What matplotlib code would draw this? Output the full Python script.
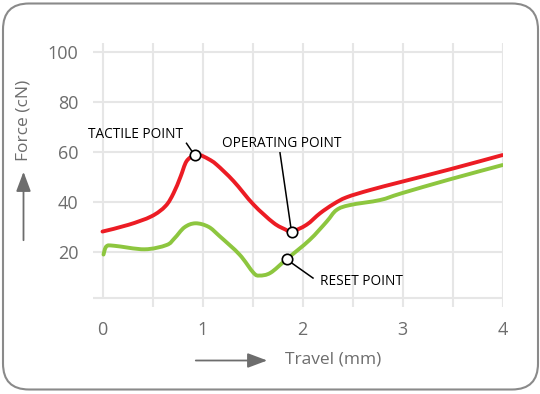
import matplotlib
matplotlib.use("Agg")
import matplotlib.pyplot as plt
from matplotlib.patches import FancyBboxPatch, PathPatch
from matplotlib.path import Path
import numpy as np

# Force-travel curves
red_x = [0.0, 0.26, 0.49, 0.63, 0.71, 0.78, 0.84, 0.92, 0.97, 1.06, 1.14, 1.31,
         1.51, 1.71, 1.83, 1.89, 2.04, 2.175, 2.31, 2.44, 2.675, 2.99, 3.475, 4.0]
red_y = [28.3, 31.0, 34.4, 38.5, 43.6, 50.2, 56.4, 58.9, 59.0, 57.3, 55.1, 48.5,
         39.1, 31.8, 29.1, 28.2, 31.0, 35.6, 39.3, 42.0, 44.9, 48.2, 53.2, 58.9]

green_x = [0.01, 0.04, 0.12, 0.42, 0.64, 0.72, 0.82, 0.93, 1.06, 1.17, 1.37,
           1.51, 1.57, 1.68, 1.84, 2.07, 2.24, 2.34, 2.475, 2.775, 2.99, 3.475, 4.0]
green_y = [19.1, 22.4, 22.6, 21.2, 22.9, 25.6, 30.0, 31.6, 30.2, 26.5, 19.1,
           11.8, 10.7, 11.8, 17.2, 24.9, 32.2, 36.9, 38.9, 40.9, 43.6, 49.2, 54.9]

x_ticks = [0, 1, 2, 3, 4]
y_ticks = [20, 40, 60, 80, 100]

# index of the marked points
tactile_i = 7
operating_i = 15
reset_i = 14

RED = "#ec1c24"
GREEN = "#8dc63f"
GRID = "#e6e6e6"
GREY = "#6d6d6d"
FONT = "Open Sans"


def smooth_path(xs, ys):
    # bezier path through the points (catmull-rom style handles)
    p = np.column_stack([xs, ys])
    verts = [p[0]]
    codes = [Path.MOVETO]
    n = len(p)
    for i in range(n - 1):
        p0 = p[i - 1] if i > 0 else p[i]
        p3 = p[i + 2] if i + 2 < n else p[i + 1]
        c1 = p[i] + (p[i + 1] - p0) / 6.0
        c2 = p[i + 1] - (p3 - p[i]) / 6.0
        verts += [c1, c2, p[i + 1]]
        codes += [Path.CURVE4] * 3
    return Path(verts, codes)


fig = plt.figure(figsize=(5.4, 3.94), dpi=100)

# background axes in pixel units for the frame and the arrows
bg = fig.add_axes([0, 0, 1, 1])
bg.set_xlim(0, 540)
bg.set_ylim(394, 0)
bg.axis("off")
frame = FancyBboxPatch((3, 3.5), 535, 386, boxstyle="round,pad=0,rounding_size=26",
                       facecolor="white", edgecolor="#8a8a8a", linewidth=1.5)
bg.add_patch(frame)

bg.annotate("", xy=(270, 360.5), xytext=(193, 360.5),
            arrowprops=dict(arrowstyle="-|>,head_length=1.2,head_width=0.45",
                            color=GREY, lw=1.3))
bg.text(285, 359, "Travel (mm)", fontsize=12.5, color=GREY, family=FONT,
        ha="left", va="center")
bg.annotate("", xy=(23.5, 169), xytext=(23.5, 243),
            arrowprops=dict(arrowstyle="-|>,head_length=1.2,head_width=0.45",
                            color=GREY, lw=1.3))
bg.text(24, 120, "Force (cN)", fontsize=12.5, color=GREY, family=FONT,
        rotation=90, ha="center", va="center")

# main chart
ax = fig.add_axes([92.5 / 540, 1 - 307.3 / 394, 410 / 540, 265 / 394])
ax.patch.set_visible(False)
ax.set_xlim(-0.1, 4.0)
ax.set_ylim(-2, 104)
for s in ax.spines.values():
    s.set_visible(False)

# grid drawn by hand, it runs a bit past the data
for yv in y_ticks + [1.6]:
    ax.plot([-0.1, 4.0], [yv, yv], color=GRID, lw=1.5, zorder=0, solid_capstyle="butt")
for xv in np.arange(0, 4.01, 0.5):
    y0 = 1.6 if xv == 0 else -1.7
    ax.plot([xv, xv], [y0, 103.7], color=GRID, lw=1.5, zorder=0, solid_capstyle="butt")

ax.set_xticks(x_ticks)
ax.set_yticks(y_ticks)
ax.tick_params(length=0, labelsize=13, labelcolor=GREY)
ax.tick_params(axis="y", pad=10)
ax.tick_params(axis="x", pad=10)
for lab in ax.get_xticklabels() + ax.get_yticklabels():
    lab.set_family(FONT)

for xs, ys, col in [(red_x, red_y, RED), (green_x, green_y, GREEN)]:
    ax.add_patch(PathPatch(smooth_path(xs, ys), facecolor="none", edgecolor=col,
                           lw=2.8, capstyle="round", joinstyle="round", zorder=3))

# leader lines and labels
ax.plot([0.84, red_x[tactile_i]], [63.6, red_y[tactile_i]], color="black", lw=1.1, zorder=4)
ax.plot([1.775, red_x[operating_i]], [59.8, red_y[operating_i]], color="black", lw=1.1, zorder=4)
ax.plot([2.105, green_x[reset_i]], [9.7, green_y[reset_i]], color="black", lw=1.1, zorder=4)

for mx, my in [(red_x[tactile_i], red_y[tactile_i]),
               (red_x[operating_i], red_y[operating_i]),
               (green_x[reset_i], green_y[reset_i])]:
    ax.plot(mx, my, "o", ms=7.5, mfc="white", mec="black", mew=1.2, zorder=5)

ax.text(-0.142, 65.6, "TACTILE POINT", fontsize=9.8, family=FONT, va="baseline",
        ha="left", clip_on=False)
ax.text(1.19, 62.2, "OPERATING POINT", fontsize=9.8, family=FONT, va="baseline", ha="left")
ax.text(2.175, 6.9, "RESET POINT", fontsize=9.8, family=FONT, va="baseline", ha="left")

plt.savefig("out.png", dpi=100)
